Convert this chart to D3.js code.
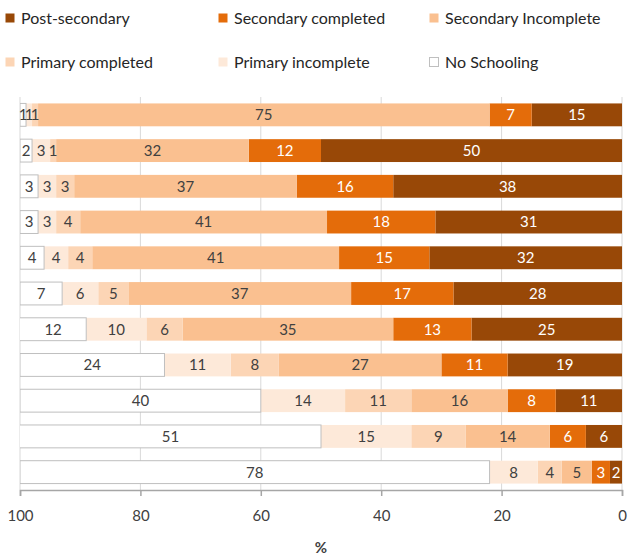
<!DOCTYPE html>
<html>
<head>
<meta charset="utf-8">
<script src="https://cdn.jsdelivr.net/npm/d3@7/dist/d3.min.js"></script>
<style>
body { margin: 0; background: #fff; }
text { font-family: Lato, "Liberation Sans", sans-serif; }
</style>
</head>
<body>
<div id="chart"></div>
<script>
var W = 629, H = 556;

// levels, stacked from 0 (right) outwards
var LEVELS = ["Post-secondary", "Secondary completed", "Secondary Incomplete",
              "Primary completed", "Primary incomplete", "No Schooling"];
var COLORS = ["#984807", "#E46C0A", "#FAC090", "#FCD5B5", "#FDE9D9", "#FFFFFF"];
var TEXT_COLORS = ["#fff", "#fff", "#404040", "#404040", "#404040", "#404040"];

// one value per bar, top to bottom
var postSecondary       = [15, 50, 38, 31, 32, 28, 25, 19, 11, 6, 2];
var secondaryCompleted  = [7, 12, 16, 18, 15, 17, 13, 11, 8, 6, 3];
var secondaryIncomplete = [75, 32, 37, 41, 41, 37, 35, 27, 16, 14, 5];
var primaryCompleted    = [1, 1, 3, 4, 4, 5, 6, 8, 11, 9, 4];
var primaryIncomplete   = [1, 3, 3, 3, 4, 6, 10, 11, 14, 15, 8];
var noSchooling         = [1, 2, 3, 3, 4, 7, 12, 24, 40, 51, 78];

var TICKS = [100, 80, 60, 40, 20, 0];

var series = [postSecondary, secondaryCompleted, secondaryIncomplete,
              primaryCompleted, primaryIncomplete, noSchooling];

var rows = d3.range(noSchooling.length).map(function(i) {
    var r = {row: i};
    LEVELS.forEach(function(k, j) { r[k] = series[j][i]; });
    return r;
});

var stacked = d3.stack().keys(LEVELS)(rows);

var pLeft = 20, pRight = 622, pTop = 97, pBottom = 490;

var x = d3.scaleLinear().domain([100, 0]).range([pLeft, pRight]);
var y = d3.scaleBand().domain(d3.range(rows.length)).range([pTop, pBottom])
    .paddingInner(0.36).paddingOuter(0.18);

var svg = d3.select('#chart').append('svg')
    .attr('width', W).attr('height', H);

svg.append('defs').append('clipPath').attr('id', 'plot-clip')
    .append('rect').attr('x', pLeft).attr('y', pTop - 5)
    .attr('width', pRight - pLeft).attr('height', pBottom - pTop + 10);

// gridlines
svg.append('g').selectAll('line').data(TICKS).enter().append('line')
    .attr('x1', function(d){ return x(d); }).attr('x2', function(d){ return x(d); })
    .attr('y1', pTop).attr('y2', pBottom)
    .attr('stroke', '#D9D9D9').attr('stroke-width', 1);

// bars
var plot = svg.append('g').attr('clip-path', 'url(#plot-clip)');
stacked.forEach(function(s, j) {
    plot.append('g').selectAll('rect').data(s).enter().append('rect')
        .attr('x', function(d){ return x(d[1]); })
        .attr('y', function(d, i){ return y(i); })
        .attr('width', function(d){ return x(d[0]) - x(d[1]); })
        .attr('height', y.bandwidth())
        .attr('fill', COLORS[j])
        .attr('stroke', j == 5 ? '#BFBFBF' : 'none')
        .attr('stroke-width', 1);
});

// labels
stacked.forEach(function(s, j) {
    svg.append('g').selectAll('text').data(s).enter().append('text')
        .attr('x', function(d){ return x((d[0] + Math.min(d[1], 100)) / 2); })
        .attr('y', function(d, i){ return y(i) + y.bandwidth() / 2; })
        .attr('dy', '0.36em')
        .attr('text-anchor', 'middle')
        .style('font-size', '15px')
        .attr('fill', TEXT_COLORS[j])
        .text(function(d){ return d.data[s.key]; });
});

// x axis
var axis = svg.append('g').attr('transform', 'translate(0,' + pBottom + ')')
    .call(d3.axisBottom(x).tickValues(TICKS).tickSize(6).tickPadding(14));
axis.select('.domain').attr('stroke', '#A6A6A6').attr('stroke-width', 1.5);
axis.selectAll('.tick line').attr('stroke', '#A6A6A6').attr('stroke-width', 1.5);
axis.selectAll('.tick text').attr('fill', '#404040')
    .style('font-size', '15px').style('font-family', 'Lato, sans-serif');

svg.append('text').attr('x', 321).attr('y', 553)
    .attr('text-anchor', 'middle').attr('fill', '#404040')
    .style('font-size', '15px').style('font-weight', 'bold').text('%');

// legend
var legendPos = [[5, 18], [218, 18], [429, 18], [5, 62], [218, 62], [429, 62]];
var legend = svg.append('g').selectAll('g').data(LEVELS).enter().append('g')
    .attr('transform', function(d, i){ return 'translate(' + legendPos[i][0] + ',' + legendPos[i][1] + ')'; });
legend.append('rect')
    .attr('x', 0.5).attr('y', -4.5).attr('width', 9).attr('height', 9)
    .attr('fill', function(d, i){ return COLORS[i]; })
    .attr('stroke', function(d, i){ return i == 5 ? '#BFBFBF' : 'none'; });
legend.append('text')
    .attr('x', 16).attr('dy', '0.36em')
    .attr('fill', '#262626')
    .style('font-size', '16px')
    .text(function(d){ return d; });
</script>
</body>
</html>
